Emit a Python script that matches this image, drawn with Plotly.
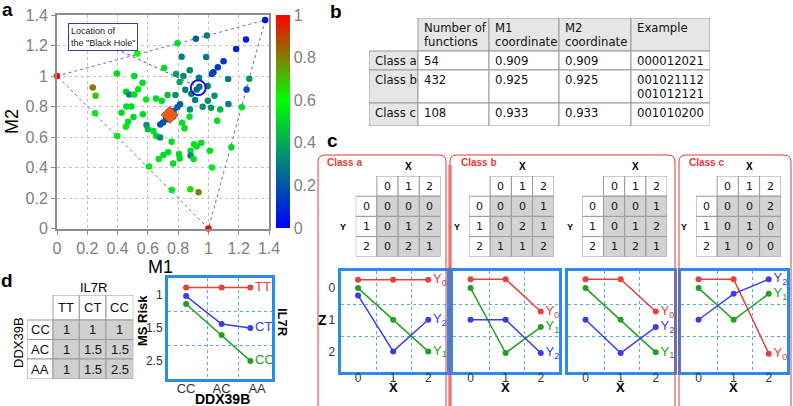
import plotly.graph_objects as go

W, H = 793, 406
ARIAL = "Liberation Sans, Arial, sans-serif"
DEJAVU = "DejaVu Sans, sans-serif"

# ---------------- panel a: M1 / M2 map of all functions ----------------
a_m1 = [0.00, 1.00, 1.375, 1.248, 1.183, 1.10, 1.062, 1.033, 1.022, 0.99, 0.917, 0.796, 0.53, 0.823,
        0.985, 0.708, 0.877, 0.786, 0.835, 0.937, 1.13, 1.27, 1.252, 0.395, 0.51, 0.565, 0.536, 0.456,
        0.477, 0.51, 0.236, 0.255, 0.252, 0.589, 0.654, 0.692, 0.73, 0.782, 0.81, 0.847, 0.887, 0.912,
        0.923, 0.94, 0.995, 0.996, 1.04, 1.132, 1.22, 0.962, 1.017, 1.078, 1.058, 0.878, 0.813, 0.795,
        0.77, 0.72, 0.70, 0.682, 0.426, 0.458, 0.491, 0.505, 0.47, 0.455, 0.567, 0.398, 0.591, 0.60,
        0.637, 0.655, 0.681, 0.768, 0.826, 0.842, 0.875, 0.757, 0.905, 0.953, 1.152, 0.922, 0.882,
        1.009, 0.734, 0.703, 0.672, 0.805, 0.81, 0.882, 0.902, 0.767, 0.608, 1.024, 0.758, 0.88, 0.935]
a_m2 = [1.00, 0.00, 1.367, 1.24, 1.177, 1.097, 1.057, 1.024, 1.013, 1.266, 1.244, 1.214, 1.147, 1.127,
        1.125, 1.052, 1.037, 1.013, 1.0, 0.989, 0.98, 0.982, 0.912, 1.016, 1.0, 0.956, 0.913, 0.896,
        0.879, 0.879, 0.925, 0.871, 0.755, 0.846, 0.853, 0.837, 0.876, 0.876, 0.96, 0.91, 0.884, 0.843,
        0.912, 0.93, 0.934, 0.838, 0.87, 0.816, 0.795, 0.799, 0.791, 0.781, 0.707, 0.78, 0.815, 0.795,
        0.77, 0.715, 0.695, 0.682, 0.759, 0.80, 0.80, 0.731, 0.70, 0.667, 0.75, 0.606, 0.678, 0.651,
        0.639, 0.606, 0.597, 0.733, 0.693, 0.658, 0.733, 0.569, 0.553, 0.562, 0.532, 0.537, 0.51,
        0.51, 0.50, 0.482, 0.456, 0.489, 0.459, 0.479, 0.456, 0.427, 0.406, 0.40, 0.252, 0.257, 0.238]
a_val = [1.0, 1.0, 0.05, 0.07, 0.08, 0.12, 0.14, 0.15, 0.17, 0.3, 0.22, 0.52, 0.6, 0.3,
         0.3, 0.52, 0.32, 0.38, 0.33, 0.3, 0.3, 0.36, 0.2, 0.52, 0.52, 0.52, 0.55, 0.52,
         0.3, 0.52, 0.8, 0.7, 0.55, 0.55, 0.52, 0.52, 0.45, 0.34, 0.4, 0.3, 0.3, 0.3,
         0.25, 0.25, 0.3, 0.34, 0.34, 0.3, 0.52, 0.35, 0.35, 0.45, 0.52, 0.34, 0.22, 0.22,
         0.22, 0.2, 0.2, 0.2, 0.52, 0.52, 0.52, 0.52, 0.52, 0.55, 0.52, 0.55, 0.35, 0.45,
         0.52, 0.5, 0.33, 0.52, 0.52, 0.52, 0.52, 0.52, 0.55, 0.52, 0.5, 0.52, 0.52,
         0.52, 0.52, 0.52, 0.52, 0.52, 0.52, 0.3, 0.52, 0.52, 0.55, 0.55, 0.55, 0.65, 0.8]
hole_m1, hole_m2 = [0.933], [0.923]
diamond_m1, diamond_m2 = [0.745], [0.745]
hull_m1 = [0.0, 1.375, 1.0, 0.0]
hull_m2 = [1.0, 1.367, 0.0, 1.0]
pointer_m1 = [0.32, 0.905]
pointer_m2 = [1.21, 0.94]
cbar_ticks = [0, 0.2, 0.4, 0.6, 0.8, 1]

# ---------------- panel b: class table ----------------
b_cells = [
    [None, "Number of\nfunctions", "M1\ncoordinate", "M2\ncoordinate", "Example"],
    ["Class a", "54", "0.909", "0.909", "000012021"],
    ["Class b", "432", "0.925", "0.925", "001021112\n001012121"],
    ["Class c", "108", "0.933", "0.933", "001010200"],
]

# ---------------- panel c: example functions ----------------
c_names = ["Class a", "Class b", None, "Class c"]
c_levels = [0, 1, 2]
c_tables = [
    [[0, 0, 0], [0, 1, 2], [0, 2, 1]],
    [[0, 0, 1], [0, 2, 1], [1, 1, 2]],
    [[0, 0, 1], [0, 1, 2], [1, 2, 1]],
    [[0, 0, 2], [0, 1, 0], [1, 0, 0]],
]
# Z values as drawn (slightly offset where lines overlap)
c_z_y0 = [[-0.26, -0.26, -0.26], [-0.28, -0.28, 0.74], [-0.28, -0.28, 0.74], [-0.28, -0.28, 2.07]]
c_z_y1 = [[0, 1, 2], [0, 2.05, 1.23], [0, 1, 2.03], [0, 1, 0.18]]
c_z_y2 = [[0.23, 2, 1], [1, 1, 2.05], [1, 2.05, 1.23], [1, 0.18, -0.28]]

# ---------------- panel d: MS risk ----------------
d_il7r = ["TT", "CT", "CC"]
d_ddx = ["CC", "AC", "AA"]
d_risk = [[1, 1, 1], [1, 1.5, 1.5], [1, 1.5, 2.5]]
d_x = [0, 1, 1.81]
d_tt = [-0.23, -0.23, -0.23]
d_ct = [0.03, 0.88, 1.0]
d_cc = [0.27, 1.21, 2.0]
d_ytext = ["1", "1.5", "2.5"]


def fx(px):
    return px / W


def fy(py):
    return 1 - py / H


fig = go.Figure()
shapes, annos = [], []


def label(px, py, text, size, color="black", bold=False, family=ARIAL, angle=0, xanchor="center"):
    if bold:
        text = f"<b>{text}</b>"
    annos.append(dict(xref="paper", yref="paper", x=fx(px), y=fy(py), text=text, showarrow=False,
                      xanchor=xanchor, yanchor="middle", textangle=angle,
                      font=dict(family=family, size=size, color=color)))


def add_table(n, x0, y0, col_w, row_h, cells, fills, size, family, align="center"):
    tw, th = sum(col_w), sum(row_h)
    fig.update_layout({
        f"xaxis{n}": dict(domain=[fx(x0), fx(x0 + tw)], range=[0, tw], visible=False,
                          fixedrange=True, anchor=f"y{n}"),
        f"yaxis{n}": dict(domain=[fy(y0 + th), fy(y0)], range=[th, 0], visible=False,
                          fixedrange=True, anchor=f"x{n}"),
    })
    ys = 0
    for r, h in enumerate(row_h):
        xs = 0
        for c, w in enumerate(col_w):
            txt = cells[r][c]
            if txt is not None:
                shapes.append(dict(type="rect", xref=f"x{n}", yref=f"y{n}", x0=xs, x1=xs + w,
                                   y0=ys, y1=ys + h, fillcolor=fills[r][c],
                                   line=dict(color="#9a9a9a", width=1), layer="below"))
                for i, ln in enumerate(txt.split("\n")):
                    if align == "left":
                        ax, ay, xa = xs + 4, ys + 10.3 + i * 13.4, "left"
                    else:
                        ax, ay, xa = xs + w / 2, ys + h / 2, "center"
                    annos.append(dict(xref=f"x{n}", yref=f"y{n}", x=ax, y=ay, text=ln,
                                      showarrow=False, xanchor=xa, yanchor="middle",
                                      font=dict(family=family, size=size, color="#111")))
            xs += w
        ys += h


def add_chart(n, left, top, w, h, xr, yr, xtext, xgrid, ytext, ygrid, show_y, tick_vals=(0, 1, 2)):
    blue = "#2a8cf0"
    fig.update_layout({
        f"xaxis{n}": dict(domain=[fx(left), fx(left + w)], range=xr, anchor=f"y{n}",
                          tickmode="array", tickvals=list(tick_vals), ticktext=xtext, ticks="",
                          showgrid=False, zeroline=False, showline=True, mirror=True,
                          linecolor=blue, linewidth=3, fixedrange=True, ticklabelstandoff=-7,
                          tickfont=dict(family=ARIAL, size=12, color="#333"),
                          minor=dict(tickmode="array", tickvals=xgrid, showgrid=True,
                                     gridcolor="#5aa8f5", griddash="dot", gridwidth=1)),
        f"yaxis{n}": dict(domain=[fy(top + h), fy(top)], range=yr, anchor=f"x{n}",
                          tickmode="array", tickvals=list(tick_vals), ticktext=ytext, ticks="",
                          showticklabels=show_y, showgrid=False, zeroline=False, showline=True,
                          mirror=True, linecolor=blue, linewidth=3, fixedrange=True,
                          tickfont=dict(family=ARIAL, size=12, color="#333"),
                          minor=dict(tickmode="array", tickvals=ygrid, showgrid=True,
                                     gridcolor="#5aa8f5", griddash="dot", gridwidth=1)),
    })


def add_series(n, xs, ys, color, name):
    fig.add_trace(go.Scatter(
        x=xs, y=ys, xaxis=f"x{n}", yaxis=f"y{n}", mode="lines+markers+text",
        line=dict(color=color, width=1.5), marker=dict(color=color, size=6),
        text=[""] * (len(xs) - 1) + [name], textposition="middle right",
        textfont=dict(family=ARIAL, size=13, color=color), cliponaxis=False,
        showlegend=False, hoverinfo="skip"))


# ---------------- panel a ----------------
fig.add_trace(go.Scatter(x=hull_m1, y=hull_m2, mode="lines", line=dict(color="#6a6ad0", width=1, dash="dot"),
                         showlegend=False, hoverinfo="skip", cliponaxis=False))
fig.add_trace(go.Scatter(x=pointer_m1, y=pointer_m2, mode="lines", line=dict(color="#4b4bc8", width=1, dash="dot"),
                         showlegend=False, hoverinfo="skip"))
fig.add_trace(go.Scatter(
    x=a_m1, y=a_m2, mode="markers", cliponaxis=False, showlegend=False,
    marker=dict(size=6.5, color=a_val, cmin=0, cmax=1,
                colorscale=[[0, "rgb(0,0,255)"], [0.6, "rgb(0,255,0)"], [1, "rgb(255,0,0)"]],
                showscale=True,
                colorbar=dict(x=fx(276), xanchor="left", y=fy(15), yanchor="top", len=213 / H,
                              lenmode="fraction", thickness=14, outlinewidth=0, xpad=0, ypad=0,
                              tickmode="array", tickvals=cbar_ticks, ticks="",
                              tickfont=dict(family=ARIAL, size=16, color="#808080")))))
fig.add_trace(go.Scatter(x=diamond_m1, y=diamond_m2, mode="markers", showlegend=False,
                         marker=dict(symbol="diamond", size=13, color="#f05a1e",
                                     line=dict(color="#b83a10", width=1))))
fig.add_trace(go.Scatter(x=hole_m1, y=hole_m2, mode="markers", showlegend=False,
                         marker=dict(symbol="circle-open", size=15, color="#1a1acc",
                                     line=dict(color="#1a1acc", width=2))))

grey_axis = dict(range=[0, 1.4], tick0=0, dtick=0.2, showgrid=True, gridcolor="#c4c4c4", griddash="dot",
                 zeroline=False, showline=True, mirror=True, linecolor="#8c8c8c", linewidth=2,
                 ticks="outside", ticklen=4, tickcolor="#8c8c8c", fixedrange=True,
                 tickfont=dict(family=ARIAL, size=16, color="#808080"))
fig.update_layout(
    xaxis=dict(grey_axis, domain=[fx(57), fx(269)], anchor="y"),
    yaxis=dict(grey_axis, domain=[fy(228.5), fy(15)], anchor="x"),
)
annos.append(dict(xref="x", yref="y", x=0.073, y=1.35, xanchor="left", yanchor="top",
                  text="Location of<br>the \"Black Hole\"", align="left", showarrow=False,
                  bgcolor="white", bordercolor="#3a3ab0", borderwidth=1, borderpad=2,
                  font=dict(family=ARIAL, size=9, color="#222")))
label(160, 267, "M1", 18)
label(12, 122, "M2", 18, angle=-90)

# ---------------- panel b ----------------
b_fill = [["white"] + ["#e6e6e6"] * 4] + [["#e6e6e6"] + ["white"] * 4 for _ in range(3)]
add_table(2, 369, 18, [49, 71, 70, 72, 79], [33, 19, 33, 23], b_cells, b_fill, 11.7, DEJAVU, align="left")

# ---------------- panel c ----------------
red = "#e23a3a"
box_l = [318, 450, 450, 679]
box_r = [446, 675, 675, 791]
r = 7
for k in (0, 1, 3):
    x0, x1, y0, y1 = box_l[k], box_r[k], 155, 412
    shapes.append(dict(type="path", xref="paper", yref="paper", line=dict(color=red, width=1),
                       path=(f"M {fx(x0)},{fy(y1)} L {fx(x0)},{fy(y0 + r)} Q {fx(x0)},{fy(y0)} {fx(x0 + r)},{fy(y0)} "
                             f"L {fx(x1 - r)},{fy(y0)} Q {fx(x1)},{fy(y0)} {fx(x1)},{fy(y0 + r)} L {fx(x1)},{fy(y1)}")))
shapes.append(dict(type="rect", xref="paper", yref="paper", x0=fx(448), x1=fx(452), y0=fy(410), y1=fy(165),
                   fillcolor="#f3a4a4", line=dict(width=0), layer="below"))
name_x = [325, 459, None, 687]
for k, nm in enumerate(c_names):
    if nm:
        label(name_x[k], 162, nm, 10, color=red, bold=True, xanchor="left")

tab_left = [355.7, 469, 582.3, 696]
chart_left = [340.5, 453, 568, 681]
for k in range(4):
    cells = [[None] + [str(v) for v in c_levels]]
    cells += [[str(c_levels[i])] + [str(v) for v in c_tables[k][i]] for i in range(3)]
    fills = [["white"] * 4] + [["white"] + ["#d3d3d3"] * 3 for _ in range(3)]
    add_table(3 + k, tab_left[k], 176, [21.2] * 4, [20.2] * 4, cells, fills, 11, DEJAVU)
    label(tab_left[k] + 21.2 * 2.5, 166, "X", 10, bold=True)
    label(tab_left[k] - 12.5, 226.8, "Y", 9, bold=True)

    n = 7 + k
    add_chart(n, chart_left[k], 271, 106, 101, [-0.5, 2.52], [2.65, -0.54],
              [str(v) for v in c_levels], [0.53, 1.53],
              [str(v) for v in c_levels], [0.52, 1.52], k == 0)
    add_series(n, c_levels, c_z_y0[k], "#e8403a", "Y<sub>0</sub>")
    add_series(n, c_levels, c_z_y1[k], "#22a022", "Y<sub>1</sub>")
    add_series(n, c_levels, c_z_y2[k], "#3c3cec", "Y<sub>2</sub>")
    annos.append(dict(xref=f"x{n}", yref="paper", x=1, y=fy(397), text="<b>X</b>", showarrow=False,
                      font=dict(family=ARIAL, size=13, color="black")))
label(322.5, 320, "Z", 14, bold=True)

# ---------------- panel d ----------------
d_cells = [[None] + d_il7r] + [[d_ddx[i]] + [f"{v:g}" for v in d_risk[i]] for i in range(3)]
d_fill = [["white"] * 4] + [["white"] + ["#d0d0d0"] * 3 for _ in range(3)]
add_table(11, 27, 295, [26, 26.3, 26.7, 27.3], [25, 19.5, 19.5, 20], d_cells, d_fill, 13, ARIAL)
label(93, 287, "IL7R", 13)
label(18, 343, "DDX39B", 13, angle=-90)

add_chart(12, 168, 278, 104, 101, [-0.51, 2.42], [2.55, -0.52], d_ddx, [0.6, 1.47],
          d_ytext, [0.5, 1.52], True)
fig.update_layout(xaxis12=dict(tickfont=dict(size=13), ticklabelstandoff=-5))
add_series(12, d_x, d_tt, "#e8403a", "TT")
add_series(12, d_x, d_ct, "#3c3cec", "CT")
add_series(12, d_x, d_cc, "#22a022", "CC")
label(142, 321, "MS Risk", 13, bold=True, angle=-90)
label(283, 322, "IL7R", 13, bold=True, angle=90)
label(222, 399, "DDX39B", 14, bold=True)

# panel letters
label(7, 10, "a", 19, bold=True)
label(336, 11, "b", 19, bold=True)
label(332, 140, "c", 19, bold=True)
label(7, 280, "d", 19, bold=True)

fig.update_layout(width=W, height=H, margin=dict(l=0, r=0, t=0, b=0, autoexpand=False),
                  paper_bgcolor="white", plot_bgcolor="rgba(0,0,0,0)", showlegend=False,
                  shapes=shapes, annotations=annos, font=dict(family=ARIAL))
# the page body has an 8px default margin; drop it so the figure sits at the window corner
fig.write_html("out.html", config={"displayModeBar": False},
               post_script="document.body.style.margin='0';")
